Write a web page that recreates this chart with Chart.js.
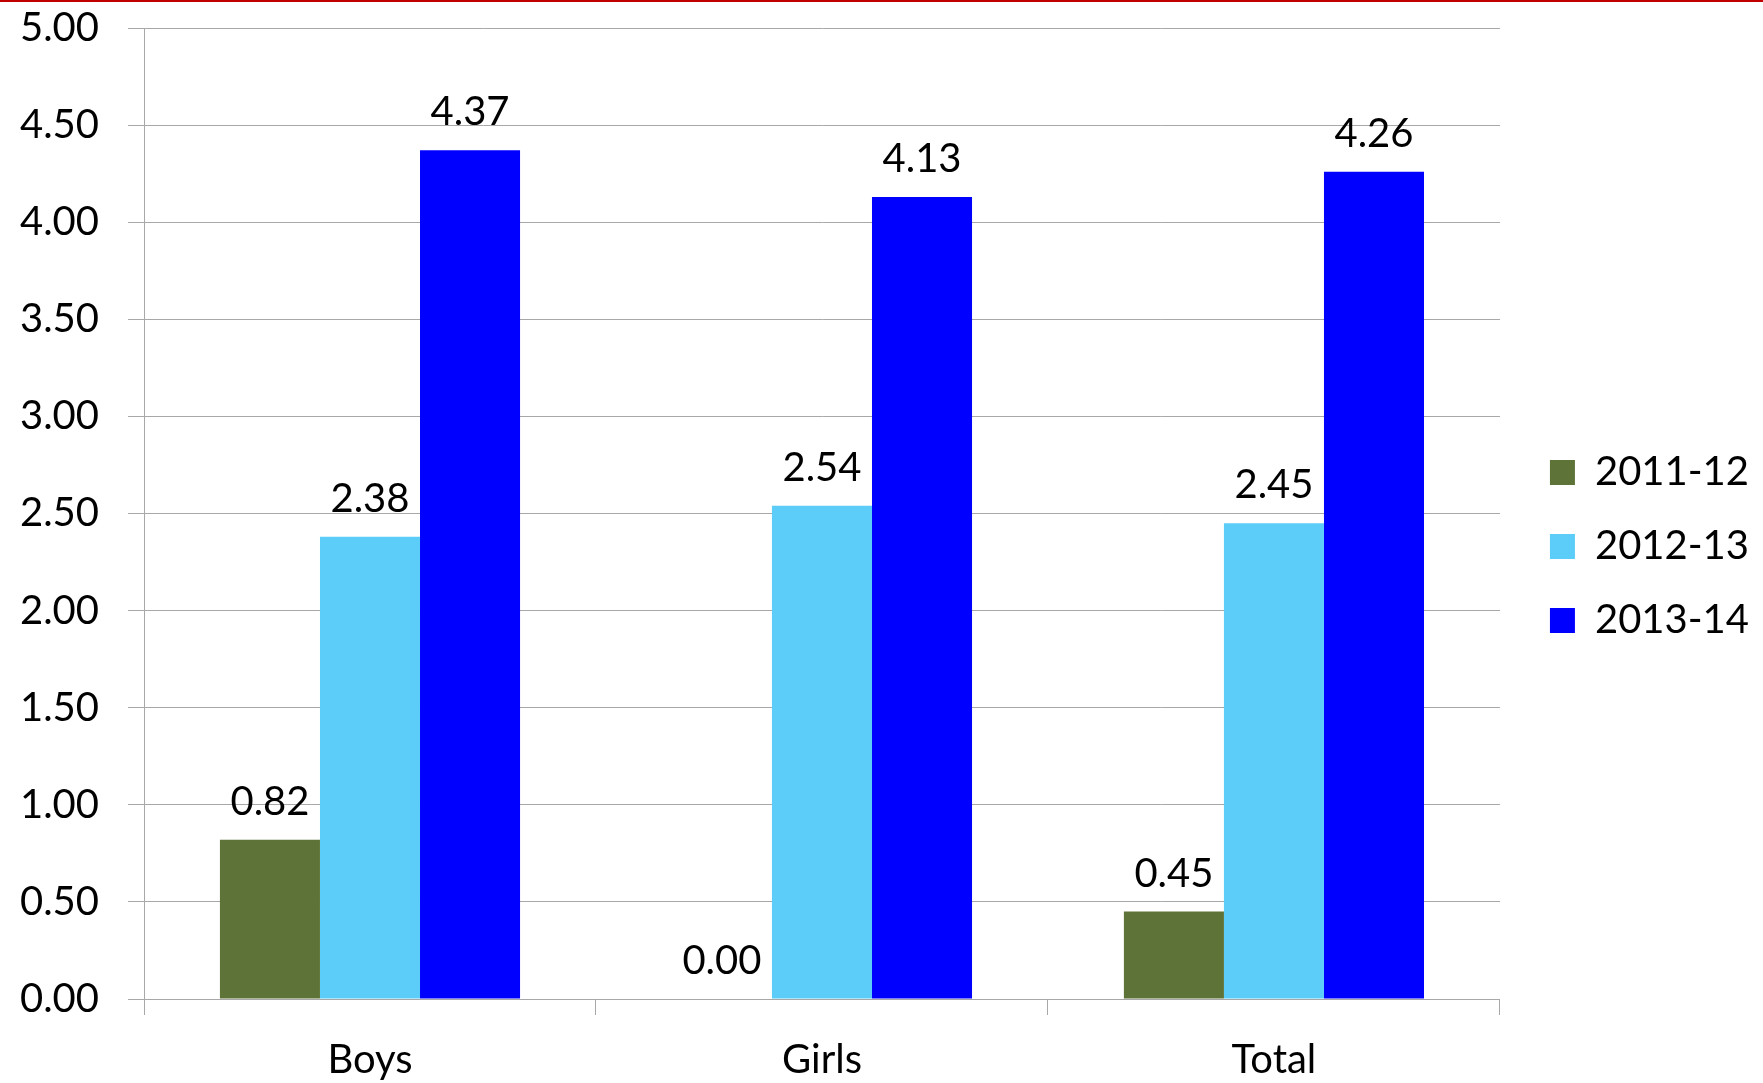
<!DOCTYPE html>
<html>
<head>
<meta charset="utf-8">
<script src="https://cdn.jsdelivr.net/npm/chart.js@4/dist/chart.umd.min.js"></script>
<style>
  html, body { margin: 0; padding: 0; background: #fff; }
  #wrap { position: relative; width: 1763px; height: 1083px; }
  #topline { position: absolute; left: 0; top: 0; width: 1763px; height: 2px; background: #c00000; }
</style>
</head>
<body>
<div id="wrap">
  <canvas id="chart" width="1763" height="1083"></canvas>
  <div id="topline"></div>
</div>
<script>
// data
const categories = ['Boys', 'Girls', 'Total'];
const seriesNames = ['2011-12', '2012-13', '2013-14'];
const values2011 = [0.82, 0.00, 0.45];
const values2012 = [2.38, 2.54, 2.45];
const values2013 = [4.37, 4.13, 4.26];
const yMin = 0;
const yMax = 5;
const yStep = 0.5;

const seriesColors = ['#5e7338', '#5bcdf8', '#0000ff'];
const gridColor = '#a8a8a8';
const font = { family: 'Lato', size: 40 };

// value labels above each bar
const valueLabels = {
  id: 'valueLabels',
  afterDatasetsDraw(chart) {
    const ctx = chart.ctx;
    ctx.save();
    ctx.font = '40px Lato';
    ctx.fillStyle = '#000';
    ctx.textAlign = 'center';
    ctx.textBaseline = 'alphabetic';
    chart.data.datasets.forEach((ds, i) => {
      chart.getDatasetMeta(i).data.forEach((bar, j) => {
        ctx.fillText(ds.data[j].toFixed(2), bar.x, bar.y - 25);
      });
    });
    ctx.restore();
  }
};

// push the legend a bit right and up
const legendNudge = {
  id: 'legendNudge',
  afterLayout(chart) {
    if (chart.legend) {
      chart.legend.left += 16;
      chart.legend.right += 16;
      chart.legend.top -= 9;
      chart.legend.bottom -= 9;
    }
  }
};

function draw() {
  const allValues = [values2011, values2012, values2013];
  new Chart(document.getElementById('chart'), {
    type: 'bar',
    data: {
      labels: categories,
      datasets: seriesNames.map((name, i) => ({
        label: name,
        data: allValues[i],
        backgroundColor: seriesColors[i],
        borderWidth: 0,
        categoryPercentage: 0.664,
        barPercentage: 1
      }))
    },
    options: {
      responsive: false,
      animation: false,
      layout: { padding: { top: 28, right: 20, left: 0, bottom: 0 } },
      plugins: {
        legend: {
          position: 'right',
          labels: { font: font, color: '#000', boxWidth: 25, boxHeight: 25, padding: 34 }
        },
        tooltip: { enabled: false }
      },
      scales: {
        x: {
          grid: { offset: true, drawOnChartArea: false, tickLength: 16, color: gridColor },
          border: { color: gridColor },
          ticks: { font: font, color: '#000', padding: 21 },
          afterFit(scale) { scale.height = 84; }
        },
        y: {
          min: yMin,
          max: yMax,
          ticks: { stepSize: yStep, font: font, color: '#000', padding: 29, callback: v => v.toFixed(2) },
          grid: { tickLength: 16, color: gridColor },
          border: { color: gridColor },
          afterFit(scale) {
            scale.width = 144;
            scale.paddingTop = 0;
            scale.paddingBottom = 0;
          }
        }
      }
    },
    plugins: [valueLabels, legendNudge]
  });
}

document.fonts.load('40px Lato').then(draw, draw);
</script>
</body>
</html>
